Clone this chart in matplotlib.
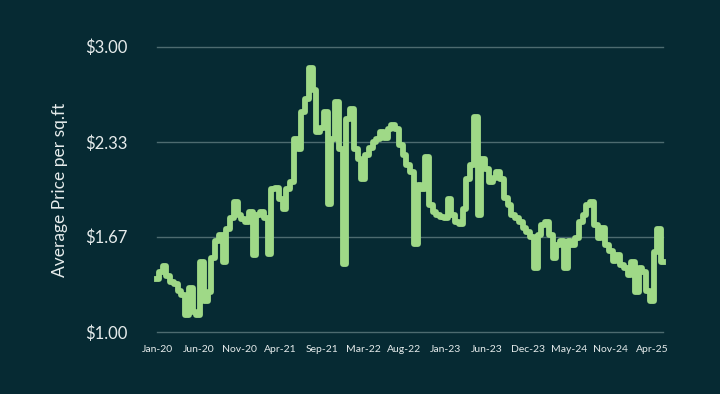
import matplotlib.pyplot as plt
import numpy as np

# weekly-ish average price per sq.ft
price = [
    1.37, 1.42, 1.46, 1.39, 1.35, 1.34, 1.29, 1.26, 1.12, 1.31,
    1.14, 1.12, 1.49, 1.22, 1.28, 1.52, 1.64, 1.68, 1.49, 1.72,
    1.80, 1.91, 1.82, 1.79, 1.77, 1.84, 1.54, 1.82, 1.84, 1.80,
    1.55, 2.00, 2.01, 1.93, 1.86, 2.00, 2.05, 2.35, 2.28, 2.54,
    2.63, 2.85, 2.70, 2.40, 2.43, 2.54, 1.90, 2.35, 2.61, 2.28,
    1.48, 2.49, 2.56, 2.28, 2.21, 2.07, 2.24, 2.29, 2.33, 2.35,
    2.40, 2.36, 2.42, 2.45, 2.42, 2.31, 2.24, 2.17, 2.12, 1.62,
    2.03, 2.00, 2.23, 1.89, 1.84, 1.82, 1.81, 1.80, 1.93, 1.82,
    1.77, 1.76, 1.86, 2.07, 2.17, 2.51, 1.82, 2.21, 2.14, 2.05,
    2.08, 2.12, 2.07, 1.94, 1.89, 1.82, 1.80, 1.77, 1.73, 1.70,
    1.67, 1.45, 1.68, 1.75, 1.77, 1.68, 1.52, 1.61, 1.64, 1.45,
    1.64, 1.61, 1.66, 1.77, 1.82, 1.89, 1.91, 1.75, 1.66, 1.73,
    1.61, 1.57, 1.50, 1.54, 1.47, 1.45, 1.40, 1.49, 1.28, 1.45,
    1.42, 1.29, 1.22, 1.56, 1.72, 1.49,
]
tick_labels = ["Jan-20", "Jun-20", "Nov-20", "Apr-21", "Sep-21", "Mar-22", "Aug-22",
               "Jan-23", "Jun-23", "Dec-23", "May-24", "Nov-24", "Apr-25"]
tick_step = 11
y_ticks = [1.00, 1.67, 2.33, 3.00]

bg = "#062a33"
green = "#9fd987"
grid = "#4d6b70"
txt = "#e6ecec"

plt.rcParams["font.family"] = ["Lato", "DejaVu Sans"]

fig = plt.figure(figsize=(7.2, 3.94), dpi=100, facecolor=bg)
ax = fig.add_axes([0.218, 0.157, 0.703, 0.7245])
ax.set_facecolor(bg)

x = np.arange(len(price))
ax.plot(x, price, color=green, linewidth=4.2, drawstyle="steps-mid",
        solid_joinstyle="round", clip_on=False, zorder=3)

ax.set_xlim(0, len(price) - 1)
ax.set_ylim(1.0, 3.0)
ax.set_yticks(y_ticks)
ax.set_yticklabels([f"${v:.2f}" for v in y_ticks])
ax.set_xticks(np.arange(len(tick_labels)) * tick_step)
ax.set_xticklabels(tick_labels)

for v in y_ticks:
    ax.axhline(v, color=grid, linewidth=1.0, zorder=1, clip_on=False)

for s in ax.spines.values():
    s.set_visible(False)
ax.tick_params(axis="y", length=0, pad=21, labelsize=12, labelcolor=txt)
ax.tick_params(axis="x", length=0, pad=9, labelsize=7.5, labelcolor=txt)

fig.text(60 / 720, 0.518, "Average Price per sq.ft", rotation=90, color=txt,
         fontsize=12.5, ha="center", va="center")

fig.savefig("out.png", dpi=100, facecolor=bg)
